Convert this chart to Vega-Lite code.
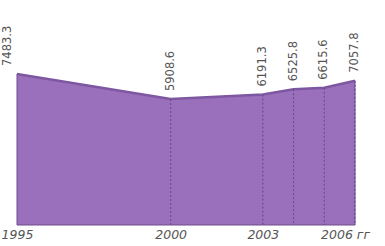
{
  "$schema": "https://vega.github.io/schema/vega-lite/v6.json",
  "width": 338,
  "height": 215,
  "autosize": "none",
  "padding": {"left": 17, "top": 10, "right": 30, "bottom": 21},
  "background": "white",
  "config": {"view": {"stroke": null}},
  "data": {"values": [
    {"year": 1995, "value": 7483.3},
    {"year": 2000, "value": 5908.6},
    {"year": 2003, "value": 6191.3},
    {"year": 2004, "value": 6525.8},
    {"year": 2005, "value": 6615.6},
    {"year": 2006, "value": 7057.8}
  ]},
  "encoding": {
    "x": {"field": "year", "type": "quantitative",
      "scale": {"domain": [1995, 2006], "nice": false, "zero": false},
      "axis": {"values": [1995, 2000, 2003, 2006], "format": "d", "grid": false, "domain": false, "ticks": false,
        "title": null, "labelPadding": 3, "labelFontSize": 12.5, "labelColor": "#555",
        "labelFont": "DejaVu Sans", "labelFontStyle": "italic",
        "labelExpr": "datum.value == 2006 ? '2006 гг' : datum.label",
        "labelOffset": {"condition": {"test": "datum.value == 2006", "value": -10}, "value": 0},
        "labelFlush": false}},
    "y": {"field": "value", "type": "quantitative",
      "scale": {"domain": [-2000, 11500], "nice": false, "zero": false},
      "axis": null}
  },
  "layer": [
    {"mark": {"type": "area", "color": "#9a6fbb", "opacity": 1, "stroke": "#6e4c8f", "strokeWidth": 1},
     "encoding": {"y2": {"datum": -2000}}},
    {"mark": {"type": "line", "color": "#7d58a0", "strokeWidth": 2.5}},
    {"transform": [{"filter": "datum.year > 1995"}],
     "mark": {"type": "rule", "color": "#6a4789", "strokeDash": [2, 2], "strokeWidth": 1},
     "encoding": {"y2": {"datum": -2000}}},
    {"transform": [{"filter": "datum.year > 1995"}],
     "mark": {"type": "text", "angle": 270, "align": "left", "baseline": "middle", "dx": 8,
      "fontSize": 11.5, "font": "DejaVu Sans", "color": "#555"},
     "encoding": {"text": {"field": "value", "type": "quantitative", "format": ".1f"}}},
    {"transform": [{"filter": "datum.year == 1995"}],
     "mark": {"type": "text", "angle": 270, "align": "left", "baseline": "middle", "dx": 8, "dy": -9,
      "fontSize": 11.5, "font": "DejaVu Sans", "color": "#555"},
     "encoding": {"text": {"field": "value", "type": "quantitative", "format": ".1f"}}}
  ]
}
